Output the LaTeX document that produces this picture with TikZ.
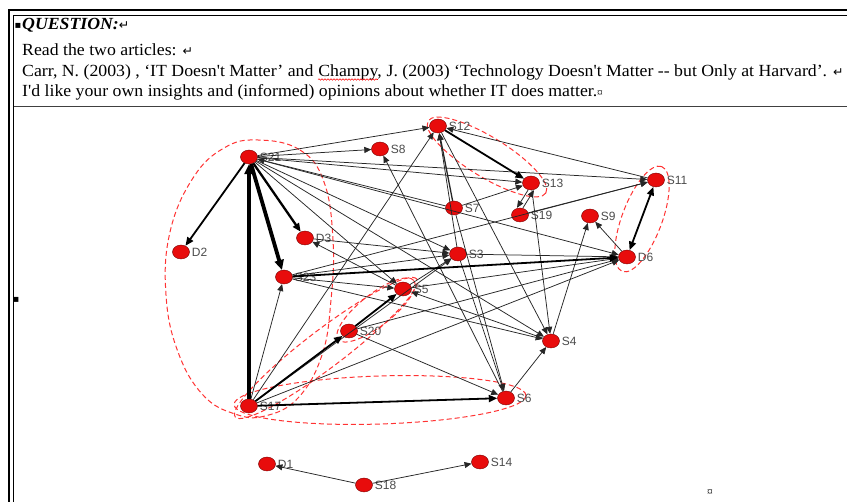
\documentclass[tikz,border=0pt]{standalone}
\usepackage{fontspec}
\setmainfont{Liberation Serif}
\newfontfamily\hdr{Liberation Serif}[Ligatures=TeXOff,FakeStretch=1.045]
\newfontfamily\lblf{Liberation Sans}
\newfontfamily\symf{DejaVu Sans}
\newcommand\retmark{{\symf\fontsize{12.5}{13}\selectfont\mdseries\upshape ↵}}
\usetikzlibrary{arrows.meta,shapes.geometric,decorations.pathmorphing}
\definecolor{nodered}{RGB}{232,12,12}
\begin{document}
\begin{tikzpicture}[x=1pt,y=-1pt,
  vtx/.style={ellipse,fill=nodered,draw=red!45!black,line width=0.4pt,minimum width=17pt,minimum height=14pt,inner sep=0pt},
  lab/.style={font=\lblf\fontsize{12}{13}\selectfont,text=black!70,inner sep=1.5pt,label distance=0.5pt},
  e/.style={draw=black!85,line width=0.75pt,-{Triangle[length=7pt,width=6pt]}},
  em/.style={e,line width=1.3pt},
  et/.style={draw=black,line width=1.8pt,-{Triangle[length=8.5pt,width=7pt]}},
  ev/.style={draw=black,line width=3.8pt,-{Triangle[length=10pt,width=9pt]}},
  clus/.style={draw=red!80,dash pattern=on 5pt off 3pt,line width=1pt},
  txt/.style={font=\hdr\fontsize{17}{19}\selectfont,inner sep=0pt,anchor=base west},
  sym/.style={font=\symf\fontsize{10}{12}\selectfont,inner sep=0pt}
]
\useasboundingbox (0,0) rectangle (847,502);
\fill[white] (0,0) rectangle (847,502);
% frame
\draw[line width=2.6pt] (9,502) -- (9,10) -- (847,10);
\draw[line width=0.7pt] (13.5,502) -- (13.5,15) -- (847,15);
\draw[line width=0.8pt,draw=black!75] (13.5,106) -- (847,106);

% header text
\node[sym,anchor=base west] (b1) at (14.5,29) {▪};
\node[txt,font=\hdr\bfseries\itshape\fontsize{17}{19}\selectfont] (q) at (22,30) {QUESTION:\retmark};
\node[txt] (l2) at (22,56) {Read the two articles: \retmark};
\node[txt] (l3a) at (22,77) {Carr, N. (2003) , ‘IT Doesn't Matter’ and\ \ };
\node[txt] (l3b) at (l3a.base east) {Champy,};
\node[txt] (l3c) at (l3b.base east) {\ J. (2003) ‘Technology Doesn't Matter -{}- but Only at Harvard’. \retmark};
\draw[red,line width=0.6pt,decorate,decoration={snake,amplitude=0.7pt,segment length=3pt}] ([yshift=-2.5pt]l3b.base west) -- ([yshift=-2.5pt,xshift=-4pt]l3b.base east);
\node[txt] (l4) at (22,96.5) {I'd like your own insights and (informed) opinions about whether IT does matter.{\fontsize{11}{12}\selectfont ¤}};
\node[sym] (b2) at (16,300) {▪};
\node[font=\hdr\fontsize{11}{12}\selectfont,inner sep=0pt] (c2) at (710,493) {¤};

% clusters
\draw[clus] plot[smooth cycle,tension=0.7] coordinates {(258,140) (300,150) (324,182) (333,240) (331,300) (322,355) (298,398) (265,416) (235,414) (203,395) (178,352) (166,295) (170,232) (193,178) (224,148)};
\draw[clus,rotate around={-31.5:(487,157)}] (487,157) ellipse [x radius=69pt,y radius=20pt];
\draw[clus,rotate around={69.4:(642,219)}] (642,219) ellipse [x radius=56pt,y radius=20pt];
\draw[clus,rotate around={1.8:(380,400)}] (380,400) ellipse [x radius=146pt,y radius=24pt];
\draw[clus,rotate around={37.2:(326,348)}] (326,348) ellipse [x radius=114pt,y radius=19pt];
\draw[clus,rotate around={37.9:(376,310)}] (376,310) ellipse [x radius=48pt,y radius=16pt];

% nodes
\node[vtx,label={[lab]0:S21}] (S21) at (249,157) {};
\node[vtx,label={[lab]0:S8}] (S8) at (380,149) {};
\node[vtx,label={[lab]0:S12}] (S12) at (438,126) {};
\node[vtx,label={[lab]0:S13}] (S13) at (531,183) {};
\node[vtx,label={[lab]0:S11}] (S11) at (656,180) {};
\node[vtx,label={[lab]0:S7}] (S7) at (454,208) {};
\node[vtx,label={[lab]0:S19}] (S19) at (520,215) {};
\node[vtx,label={[lab]0:S9}] (S9) at (590,216) {};
\node[vtx,label={[lab]0:D3}] (D3) at (305,238) {};
\node[vtx,label={[lab]0:D2}] (D2) at (181,252) {};
\node[vtx,label={[lab]0:S3}] (S3) at (458,254) {};
\node[vtx,label={[lab]0:D6}] (D6) at (627,257) {};
\node[vtx,label={[lab]0:S23}] (S23) at (284,277) {};
\node[vtx,label={[lab]0:S5}] (S5) at (403,289) {};
\node[vtx,label={[lab]0:S20}] (S20) at (349,331) {};
\node[vtx,label={[lab]0:S4}] (S4) at (551,341) {};
\node[vtx,label={[lab]0:S17}] (S17) at (249,406) {};
\node[vtx,label={[lab]0:S6}] (S6) at (506,398) {};
\node[vtx,label={[lab]0:D1}] (D1) at (267,464) {};
\node[vtx,label={[lab]0:S18}] (S18) at (364,485) {};
\node[vtx,label={[lab]0:S14}] (S14) at (480,462) {};

% thin edges
\draw[e] (S21) -- (S8);
\draw[e] (S21) -- (S12);
\draw[e] (S21) -- (S13);
\draw[e] (S21) -- (S11);
\draw[e] (S21) -- (S3);
\draw[e] (S21) -- (D6);
\draw[e] (S21) -- (S5);
\draw[e] (S21) -- (S4);
\draw[e] (S7) -- (S21);
\draw[e] (S11) -- (S12);
\draw[e] (S3) -- (S12);
\draw[e] (S17) -- (S12);
\draw[e] (S7) -- (S13);
\draw[e] (S19) -- (S11);
\draw[e] ([xshift=3pt]S19.north) -- ([xshift=3pt]S13.south);
\draw[e] ([xshift=-3pt]S13.south) -- ([xshift=-3pt]S19.north);
\draw[e] (D6) -- (S9);
\draw[e] (S4) -- (S9);
\draw[e] (S3) -- (D6);
\draw[e] (S5) -- (D6);
\draw[e] (S20) -- (D6);
\draw[e] (S17) -- (D6);
\draw[e] (D3) -- (S3);
\draw[e] (S5) -- (D3);
\draw[e] (S5) -- (S3);
\draw[e] (S17) -- (S3);
\draw[e] (S23) -- (S3);
\draw[e] (S23) -- (S5);
\draw[e] (S23) -- (S4);
\draw[e] (S23) -- (S11);
\draw[e] (S17) -- (S23);
\draw[e] (S20) -- (S6);
\draw[e] (S3) -- (S6);
\draw[e] (S7) -- (S6);
\draw[e] (S6) -- (S4);
\draw[e] (S6) -- (S8);
\draw[e] (S12) -- (S4);
\draw[e] (S13) -- (S4);
\draw[e] (S4) -- (S5);
\draw[e] (S18) -- (D1);
\draw[e] (S18) -- (S14);
\draw[em] (S7) -- (S12);
% thick edges
\draw[et] (S21) -- (D2);
\draw[et,line width=2.3pt] (S21) -- (D3);
\draw[et] (S12) -- (S13);
\draw[et,{Triangle[length=8.5pt,width=7pt]}-{Triangle[length=8.5pt,width=7pt]}] (D6) -- (S11);
\draw[et] (S23) -- (D6);
\draw[et] (S17) -- (S20);
\draw[et] (S20) -- (S5);
\draw[et] (S17) -- (S6);
\draw[ev] (S21) -- (S23);
\draw[ev] (S17) -- (S21);
\end{tikzpicture}
\end{document}
